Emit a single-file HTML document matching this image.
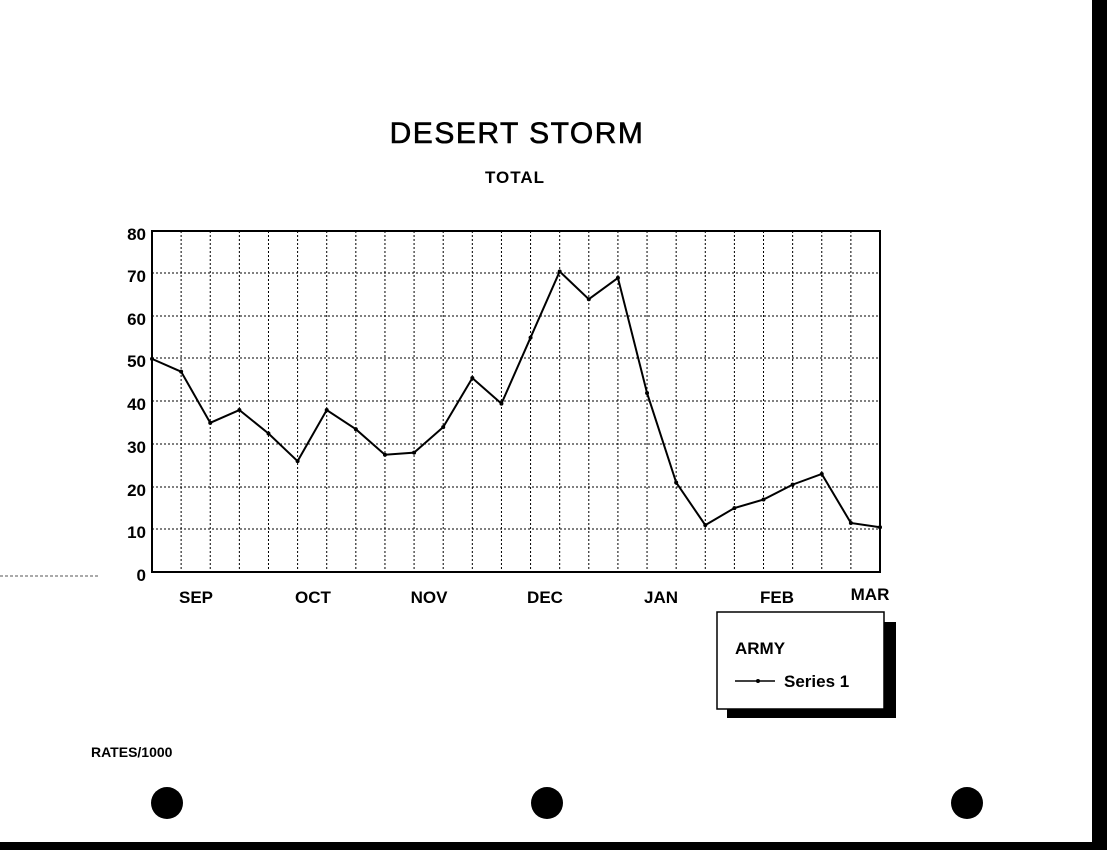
<!DOCTYPE html>
<html><head><style>
body{margin:0;background:#fff;}
svg{display:block;font-family:"Liberation Sans",Arial,sans-serif;font-weight:bold;}
</style></head><body>
<svg width="1107" height="850" viewBox="0 0 1107 850">
<rect width="1107" height="850" fill="#fff"/>
<rect x="1092" y="0" width="15" height="850" fill="#000"/>
<rect x="0" y="842" width="1107" height="8" fill="#000"/>
<line x1="0" y1="576" x2="100" y2="576" stroke="#555" stroke-width="1" stroke-dasharray="3,2"/>
<text x="517" y="143" font-size="30" font-weight="normal" letter-spacing="1.5" stroke="#000" stroke-width="0.6" text-anchor="middle">DESERT STORM</text>
<text x="515" y="183" font-size="17" letter-spacing="1" text-anchor="middle">TOTAL</text>
<g stroke="#000" stroke-width="1" stroke-dasharray="2,2">
<line x1="152" y1="273" x2="880" y2="273"/><line x1="152" y1="316" x2="880" y2="316"/>
<line x1="152" y1="358" x2="880" y2="358"/><line x1="152" y1="401" x2="880" y2="401"/>
<line x1="152" y1="444" x2="880" y2="444"/><line x1="152" y1="487" x2="880" y2="487"/>
<line x1="152" y1="529" x2="880" y2="529"/>
</g>
<g id="v" stroke="#000" stroke-width="1" stroke-dasharray="2,2"></g>
<rect x="152" y="231" width="728" height="341" fill="none" stroke="#000" stroke-width="2"/>
<g font-size="17" text-anchor="end">
<text x="146" y="240">80</text><text x="146" y="282">70</text><text x="146" y="325">60</text>
<text x="146" y="367">50</text><text x="146" y="410">40</text><text x="146" y="453">30</text>
<text x="146" y="496">20</text><text x="146" y="538">10</text><text x="146" y="581">0</text>
</g>
<g font-size="17" text-anchor="middle">
<text x="196" y="603">SEP</text><text x="313" y="603">OCT</text><text x="429" y="603">NOV</text>
<text x="545" y="603">DEC</text><text x="661" y="603">JAN</text><text x="777" y="603">FEB</text>
<text x="870" y="600">MAR</text>
</g>
<polyline id="p" fill="none" stroke="#000" stroke-width="2"/>
<rect x="727" y="622" width="169" height="96" fill="#000"/>
<rect x="717" y="612" width="167" height="97" fill="#fff" stroke="#000" stroke-width="1.5"/>
<text x="735" y="654" font-size="17">ARMY</text>
<line x1="735" y1="681" x2="775" y2="681" stroke="#000" stroke-width="1.5"/>
<circle cx="758" cy="681" r="2"/>
<text x="784" y="687" font-size="17">Series 1</text>
<text x="91" y="757" font-size="14">RATES/1000</text>
<circle cx="167" cy="803" r="16"/><circle cx="547" cy="803" r="16"/><circle cx="967" cy="803" r="16"/>
<g id="d"></g>
</svg>
<script>
var d=[50,47,35,38,32.5,26,38,33.5,27.5,28,34,45.5,39.5,55,70.5,64,69,42,21,11,15,17,20.5,23,11.5,10.5];
var pts=[],v=document.getElementById('v'),g=document.getElementById('d'),ns="http://www.w3.org/2000/svg";
for(var i=0;i<26;i++){var x=152+i*728/25,y=572-d[i]*341/80;pts.push(x+","+y);
if(i>0&&i<25){var l=document.createElementNS(ns,'line');l.setAttribute('x1',x);l.setAttribute('x2',x);l.setAttribute('y1',231);l.setAttribute('y2',572);v.appendChild(l);}
var c=document.createElementNS(ns,'circle');c.setAttribute('cx',x);c.setAttribute('cy',y);c.setAttribute('r',2);g.appendChild(c);}
document.getElementById('p').setAttribute('points',pts.join(' '));
</script>
</body></html>
